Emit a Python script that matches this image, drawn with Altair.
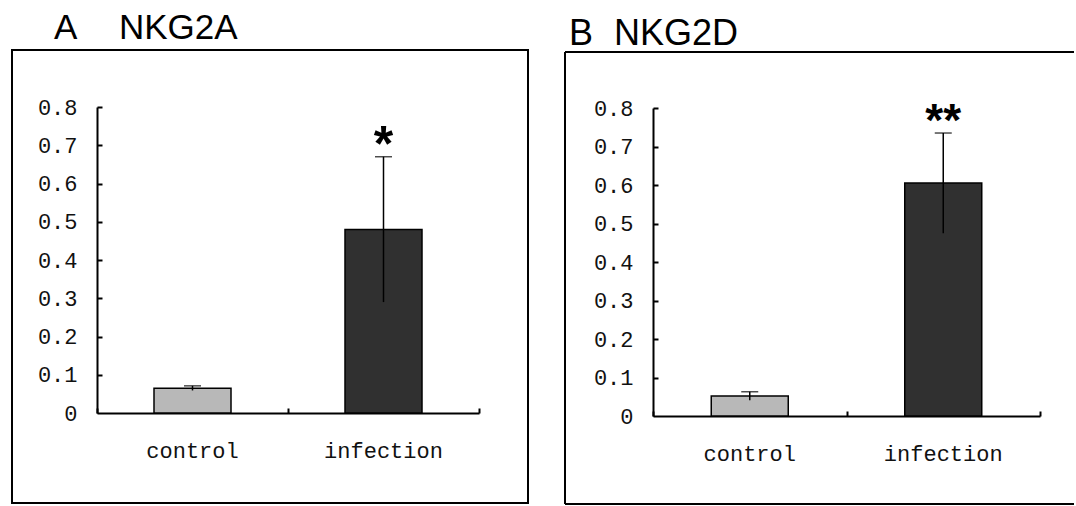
import altair as alt
import pandas as pd

# ---- data ----
categories = ["control", "infection"]

a_means = [0.065, 0.48]
a_errors = [0.006, 0.19]
a_marks = ["", "*"]

b_means = [0.052, 0.605]
b_errors = [0.011, 0.13]
b_marks = ["", "**"]

y_ticks = [0, 0.1, 0.2, 0.3, 0.4, 0.5, 0.6, 0.7, 0.8]

panel_letters = ["A", "B"]
panel_names = ["NKG2A", "NKG2D"]

MONO = "Liberation Mono"
SANS = "Liberation Sans"
CTRL_FILL = "#b8b8b8"
INF_FILL = "#303030"
TXT = "#111111"


def panel(means, errors, marks, letter, name, W, H, xr, yr, letter_x, name_x, title_y,
          title_size, star_size, star_dy, box):
    df = pd.DataFrame({"cat": categories, "mean": means, "err": errors, "sig": marks})
    base = alt.Chart(df).transform_calculate(
        lo="datum.mean - datum.err", hi="datum.mean + datum.err"
    )
    xs = alt.Scale(domain=categories, range=xr, paddingInner=0, paddingOuter=0)
    ys = alt.Scale(domain=[0, 0.8], range=yr, nice=False, zero=True)

    main_y = alt.Axis(orient="left", offset=-xr[0], values=y_ticks, format=".1~f",
                      ticks=False, tickSize=0, domain=True, domainColor="black",
                      domainWidth=2, labelFont=MONO, labelFontSize=22, labelColor=TXT,
                      labelPadding=20, labelOverlap=False, grid=False, title=None)
    tick_y = alt.Axis(orient="left", offset=-(xr[0] + 5), values=y_ticks[1:],
                      ticks=True, tickSize=5, tickWidth=2, tickColor="black",
                      domain=False, labels=False, grid=False, title=None)
    main_x = alt.Axis(orient="bottom", offset=-(H - yr[0]), ticks=False, tickSize=0,
                      domain=True, domainColor="black", domainWidth=2,
                      labelFont=MONO, labelFontSize=22, labelColor=TXT,
                      labelPadding=27, labelAngle=0, grid=False, title=None)
    tick_x = alt.Axis(orient="bottom", offset=-(H - yr[0] + 5), tickBand="extent",
                      ticks=True, tickSize=5, tickWidth=2, tickColor="black",
                      domain=False, labels=False, grid=False, title=None)

    bars = base.mark_bar(size=77, stroke="black", strokeWidth=1.5).encode(
        x=alt.X("cat:N", scale=xs, axis=main_x, sort=categories),
        y=alt.Y("mean:Q", scale=ys, axis=main_y),
        color=alt.Color("cat:N", scale=alt.Scale(domain=categories, range=[CTRL_FILL, INF_FILL]),
                        legend=None),
    )
    rules = base.mark_rule(color="black", strokeWidth=1.5).encode(
        x=alt.X("cat:N", scale=xs, axis=tick_x, sort=categories),
        y=alt.Y("lo:Q", scale=ys, axis=tick_y),
        y2="hi:Q",
    )
    caps = base.mark_tick(color="black", thickness=1.5, size=17, orient="horizontal").encode(
        x=alt.X("cat:N", scale=xs, axis=None, sort=categories),
        y=alt.Y("hi:Q", scale=ys, axis=None),
    )
    stars = base.mark_text(font=SANS, fontSize=star_size, fontWeight="bold",
                           baseline="alphabetic", align="center", dy=star_dy,
                           color="black").encode(
        x=alt.X("cat:N", scale=xs, axis=None, sort=categories),
        y=alt.Y("hi:Q", scale=ys, axis=None),
        text="sig:N",
    )

    one = pd.DataFrame({"letter": [letter], "name": [name]})
    t_letter = alt.Chart(one).mark_text(align="left", baseline="alphabetic", font=SANS,
                                        fontSize=title_size, color="black").encode(
        x=alt.value(letter_x), y=alt.value(title_y), text="letter:N")
    t_name = alt.Chart(one).mark_text(align="left", baseline="alphabetic", font=SANS,
                                      fontSize=title_size, color="black").encode(
        x=alt.value(name_x), y=alt.value(title_y), text="name:N")

    deco = []
    bx1, by1, bx2, by2 = box
    if bx2 is not None:
        deco.append(alt.Chart(one).mark_rect(fill="white", fillOpacity=0, stroke="black",
                                             strokeWidth=2).encode(
            x=alt.value(bx1), x2=alt.value(bx2), y=alt.value(by1), y2=alt.value(by2)))
    else:
        deco.append(alt.Chart(one).mark_rule(color="black", strokeWidth=2).encode(
            x=alt.value(bx1), x2=alt.value(W - 2), y=alt.value(by1)))
        deco.append(alt.Chart(one).mark_rule(color="black", strokeWidth=2).encode(
            x=alt.value(bx1), y=alt.value(by1), y2=alt.value(by2)))
        deco.append(alt.Chart(one).mark_rule(color="black", strokeWidth=2).encode(
            x=alt.value(bx1), x2=alt.value(W - 2), y=alt.value(by2)))

    return alt.layer(*deco, bars, rules, caps, stars, t_letter, t_name).resolve_axis(
        x="independent", y="independent"
    ).properties(width=W, height=H)


pa = panel(a_means, a_errors, a_marks, panel_letters[0], panel_names[0],
           540, 506, [97, 479], [413, 107], 54, 119, 39, 35, 50, 4, (12, 50, 528, 503))
pb = panel(b_means, b_errors, b_marks, panel_letters[1], panel_names[1],
           536, 506, [113, 500], [416, 108], 29, 74, 45, 36, 46, 3, (25, 52, None, 504))

chart = alt.hconcat(pa, pb, spacing=0).properties(
    padding=0, background="white"
).configure_view(strokeWidth=0, stroke="white").configure_concat(spacing=0)

chart.save("out.html", embed_options={"renderer": "svg", "actions": False})
